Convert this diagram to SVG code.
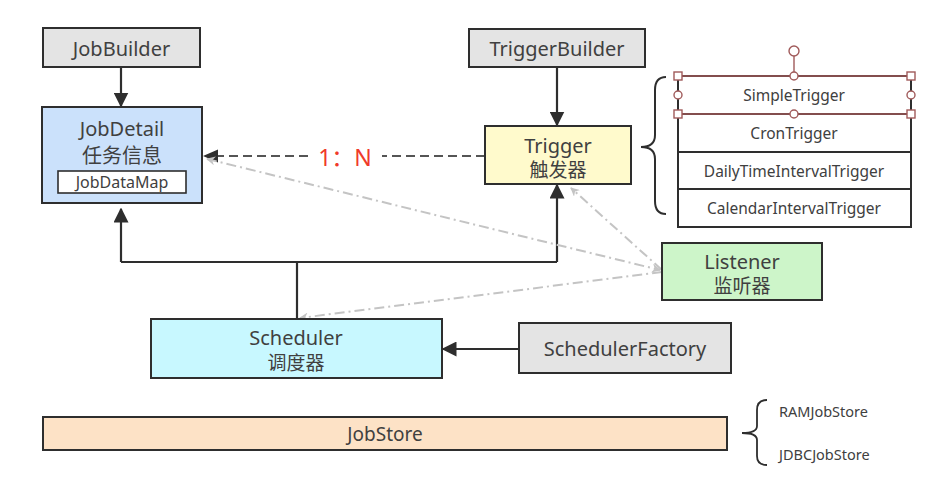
<svg xmlns="http://www.w3.org/2000/svg" width="926" height="490" viewBox="0 0 926 490">
<style>
text{font-family:"Noto Sans","Noto Sans CJK SC",sans-serif;fill:#404040;text-anchor:middle;dominant-baseline:central}
.box{stroke:#2e2e2e;stroke-width:2}
.t20{font-size:20px}
.t19{font-size:19px}
.t16{font-size:16px}
.t15{font-size:15.5px}
.t14{font-size:14.5px}
.solid{fill:none;stroke:#2e2e2e;stroke-width:2.2}
.dd{fill:none;stroke:#c4c4c4;stroke-width:2;stroke-dasharray:10 4 2 4}
.h{fill:#fff;stroke:#a05a5a;stroke-width:1.4}
</style>
<defs>
<marker id="ag" viewBox="0 0 10 10" refX="9" refY="5" markerWidth="9" markerHeight="9" orient="auto-start-reverse" markerUnits="userSpaceOnUse">
<path d="M0,0 L10,5 L0,10 L3,5 z" fill="#c4c4c4"/>
</marker>
<marker id="abig" viewBox="0 0 10 10" refX="9" refY="5" markerWidth="15" markerHeight="15" markerUnits="userSpaceOnUse" orient="auto">
<path d="M0,0 L10,5 L0,10 z" fill="#2e2e2e"/>
</marker>
</defs>
<rect width="926" height="490" fill="#fff"/>

<g id="connectors">
<line class="solid" x1="121" y1="67" x2="121" y2="106" marker-end="url(#abig)"/>
<line class="solid" x1="557" y1="67" x2="557" y2="125" marker-end="url(#abig)"/>
<polyline class="solid" points="121,262 557,262"/>
<line class="solid" x1="121" y1="262" x2="121" y2="209" marker-end="url(#abig)"/>
<line class="solid" x1="557" y1="262" x2="557" y2="185" marker-end="url(#abig)"/>
<line class="solid" x1="297" y1="262" x2="297" y2="319"/>
<line class="solid" x1="519" y1="349" x2="443" y2="349" marker-end="url(#abig)"/>
<g fill="none" stroke="#555" stroke-width="2.2" stroke-dasharray="9 5">
<line x1="485" y1="156" x2="382" y2="156"/>
<line x1="308" y1="156" x2="214" y2="156"/>
</g>
<path d="M203,156 L218,149.5 L218,162.5 z" fill="#2e2e2e"/>
<text x="345" y="157" style="font-size:23px;fill:#f03a2a">1：N</text>
<line class="dd" x1="207" y1="159" x2="660" y2="270" marker-start="url(#ag)" marker-end="url(#ag)"/>
<line class="dd" x1="662" y1="270" x2="571" y2="188" marker-end="url(#ag)"/>
<line class="dd" x1="662" y1="272" x2="300" y2="318" marker-end="url(#ag)"/>
</g>

<g id="JobBuilder">
<rect class="box" x="43" y="28" width="157" height="39" fill="#e4e4e4"/>
<text class="t20" x="121.5" y="48">JobBuilder</text>
</g>

<g id="JobDetail">
<rect class="box" x="42" y="107" width="160" height="96" fill="#cbe1fb"/>
<text class="t20" x="122" y="128">JobDetail</text>
<text class="t20" x="122" y="155">任务信息</text>
<rect x="58" y="171" width="128" height="22" fill="#fff" stroke="#2e2e2e" stroke-width="1.6"/>
<text class="t16" x="122" y="182">JobDataMap</text>
</g>

<g id="TriggerBuilder">
<rect class="box" x="469" y="29" width="176" height="38" fill="#e4e4e4"/>
<text class="t20" x="557" y="48">TriggerBuilder</text>
</g>

<g id="Trigger">
<rect class="box" x="485" y="126" width="146" height="58" fill="#fffacc"/>
<text class="t20" x="558" y="145">Trigger</text>
<text class="t19" x="558" y="170">触发器</text>
</g>

<g id="TriggerTypes">
<path d="M666,77 Q655,77 655,90 L655,135 Q655,147 641,147 Q655,147 655,159 L655,201 Q655,214 666,214" fill="none" stroke="#2e2e2e" stroke-width="2"/>
<rect x="678" y="76" width="233" height="151" fill="#fff" stroke="#2e2e2e" stroke-width="2"/>
<line x1="678" y1="114" x2="911" y2="114" stroke="#2e2e2e" stroke-width="2"/>
<line x1="678" y1="152" x2="911" y2="152" stroke="#2e2e2e" stroke-width="2"/>
<line x1="678" y1="189" x2="911" y2="189" stroke="#2e2e2e" stroke-width="2"/>
<text class="t15" x="794" y="95">SimpleTrigger</text>
<text class="t15" x="794" y="133">CronTrigger</text>
<text class="t15" x="794" y="171">DailyTimeIntervalTrigger</text>
<text class="t15" x="794" y="208">CalendarIntervalTrigger</text>
<g id="selection">
<line x1="678" y1="76" x2="911" y2="76" stroke="#a05a5a" stroke-width="1.4"/>
<line x1="678" y1="114" x2="911" y2="114" stroke="#a05a5a" stroke-width="1.4"/>
<line x1="794" y1="55" x2="794" y2="76" stroke="#a05a5a" stroke-width="1.4"/>
<circle class="h" cx="794" cy="51" r="5"/>
<rect class="h" x="674" y="72" width="8" height="8"/>
<rect class="h" x="907" y="72" width="8" height="8"/>
<rect class="h" x="674" y="110" width="8" height="8"/>
<rect class="h" x="907" y="110" width="8" height="8"/>
<circle class="h" cx="794" cy="76" r="4"/>
<circle class="h" cx="794" cy="114" r="4"/>
<circle class="h" cx="678" cy="95" r="4"/>
<circle class="h" cx="911" cy="95" r="4"/>
</g>
</g>

<g id="Listener">
<rect class="box" x="662" y="243" width="160" height="57" fill="#cdf5c9"/>
<text class="t20" x="742" y="261">Listener</text>
<text class="t19" x="742" y="286">监听器</text>
</g>

<g id="Scheduler">
<rect class="box" x="151" y="319" width="291" height="59" fill="#c8f8ff"/>
<text class="t20" x="296" y="337">Scheduler</text>
<text class="t19" x="296" y="363">调度器</text>
</g>

<g id="SchedulerFactory">
<rect class="box" x="519" y="323" width="212" height="50" fill="#e4e4e4"/>
<text class="t20" x="625" y="348">SchedulerFactory</text>
</g>

<g id="JobStore">
<rect class="box" x="43" y="417" width="684" height="33" fill="#fde2c6"/>
<text class="t19" x="385" y="434">JobStore</text>
</g>

<g id="JobStoreTypes">
<path d="M767,400 Q757,400 757,410 L757,426 Q757,433 742,433 Q757,433 757,440 L757,456 Q757,465 767,465" fill="none" stroke="#2e2e2e" stroke-width="1.8"/>
<text class="t14" x="779" y="411" style="text-anchor:start">RAMJobStore</text>
<text class="t14" x="779" y="454" style="text-anchor:start">JDBCJobStore</text>
</g>
</svg>
